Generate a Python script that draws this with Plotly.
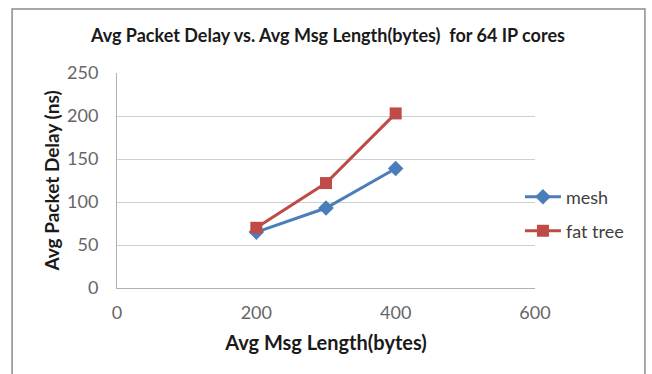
import plotly.graph_objects as go

# Average message length (bytes) and measured packet delay (ns)
msg_length = [200, 300, 400]
mesh_delay = [65, 93, 139]
fat_tree_delay = [70, 122, 203]

x_ticks = [0, 200, 400, 600]
y_ticks = [0, 50, 100, 150, 200, 250]

FONT = "Lato, Open Sans, sans-serif"

fig = go.Figure()
fig.add_trace(go.Scatter(
    x=msg_length, y=mesh_delay, name="mesh", mode="lines+markers",
    legend="legend",
    line=dict(color="#4a7ebb", width=3),
    marker=dict(symbol="diamond", size=12, color="#4a7ebb"),
))
fig.add_trace(go.Scatter(
    x=msg_length, y=fat_tree_delay, name="fat tree", mode="lines+markers",
    legend="legend2",
    line=dict(color="#be4b48", width=3),
    marker=dict(symbol="square", size=12, color="#be4b48"),
))

legend_style = dict(
    x=0.964, xanchor="left", yanchor="middle",
    font=dict(size=18, color="#404040"),
    bgcolor="rgba(0,0,0,0)", itemwidth=36,
)

fig.update_layout(
    width=652, height=374,
    margin=dict(l=117, r=117, t=73, b=86),
    paper_bgcolor="white", plot_bgcolor="white",
    font=dict(family=FONT, color="#404040"),
    title=dict(
        text="<b>Avg Packet Delay vs. Avg Msg Length(bytes)  for 64 IP cores</b>",
        x=0.503, xanchor="center", y=0.904, yanchor="middle",
        font=dict(size=18, color="#1a1a1a", family=FONT),
    ),
    showlegend=True,
    legend=dict(y=0.423, **legend_style),
    legend2=dict(y=0.265, **legend_style),
    xaxis=dict(
        range=[0, 600], tickvals=x_ticks, showgrid=False, zeroline=False,
        showline=True, linecolor="#b0b0b0", linewidth=1,
        ticks="", ticklabelstandoff=8,
        tickfont=dict(size=18, color="#666666"),
        title=dict(text="<b>Avg Msg Length(bytes)</b>",
                   font=dict(size=20, color="#1a1a1a"), standoff=14),
    ),
    yaxis=dict(
        range=[0, 250], tickvals=y_ticks, showgrid=True, gridcolor="#cfcfcf",
        gridwidth=1, zeroline=False,
        showline=True, linecolor="#b0b0b0", linewidth=1,
        ticks="", ticklabelstandoff=14,
        tickfont=dict(size=18, color="#666666"),
        title=dict(text="<b>Avg Packet Delay (ns)</b>",
                   font=dict(size=19, color="#1a1a1a"), standoff=2),
    ),
    shapes=[dict(
        type="rect", xref="paper", yref="paper",
        x0=-0.251, x1=1.263, y0=-0.43, y1=1.298,
        line=dict(color="#8c8c8c", width=1.5), fillcolor="rgba(0,0,0,0)",
    )],
)

fig.write_html("out.html")
